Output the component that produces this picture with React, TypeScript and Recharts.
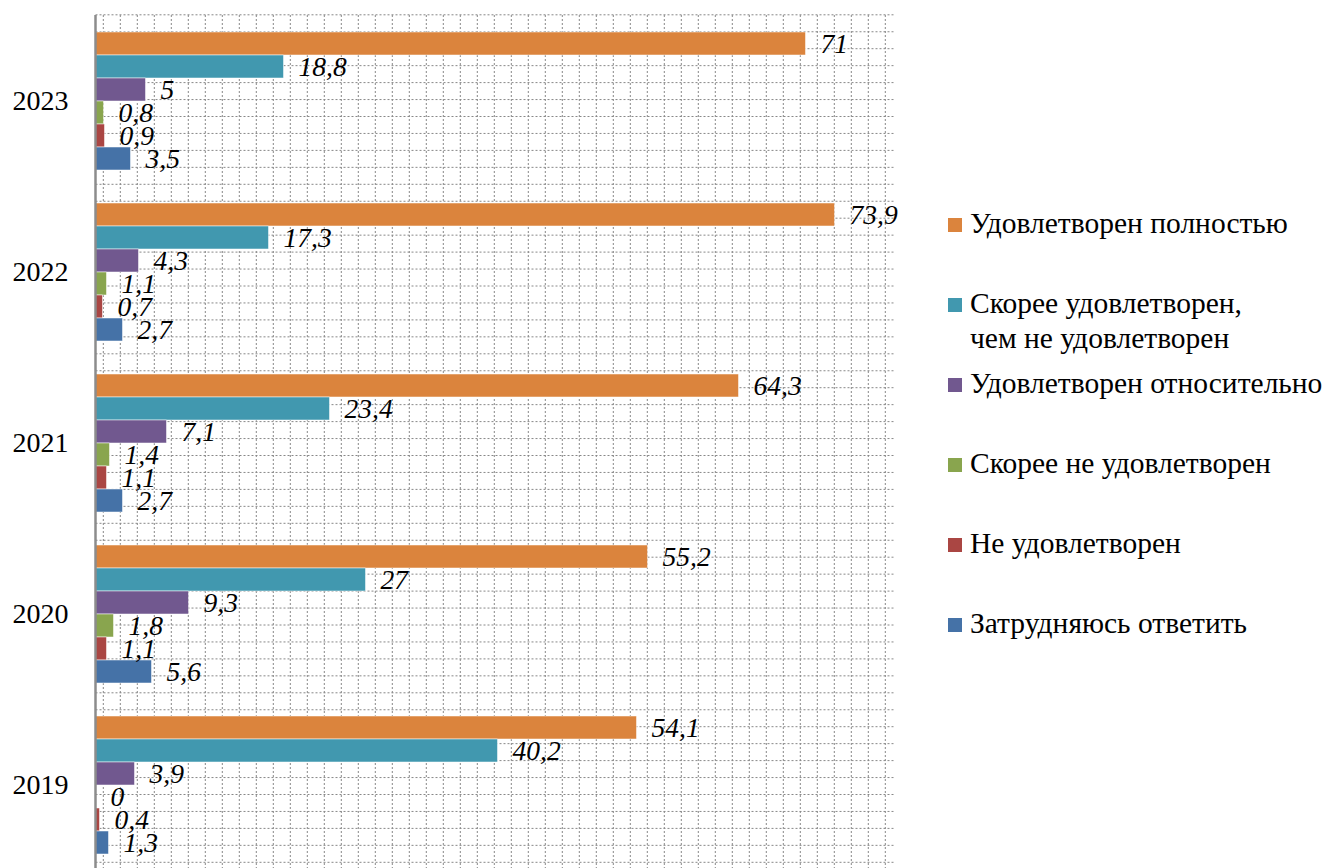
import React from 'react';
import { BarChart, Bar, XAxis, YAxis, CartesianGrid, Legend, LabelList } from 'recharts';

// годы (сверху вниз)
const years = ['2023', '2022', '2021', '2020', '2019'];

// значения по каждому варианту ответа, %
const fullySatisfied = [71, 73.9, 64.3, 55.2, 54.1];
const ratherSatisfied = [18.8, 17.3, 23.4, 27, 40.2];
const relativelySatisfied = [5, 4.3, 7.1, 9.3, 3.9];
const ratherNotSatisfied = [0.8, 1.1, 1.4, 1.8, 0];
const notSatisfied = [0.9, 0.7, 1.1, 1.1, 0.4];
const hardToSay = [3.5, 2.7, 2.7, 5.6, 1.3];

const SERIES = [
  { key: 'full', name: 'Удовлетворен полностью', lines: ['Удовлетворен полностью'], color: '#DB843D', values: fullySatisfied },
  { key: 'rather', name: 'Скорее удовлетворен, чем не удовлетворен', lines: ['Скорее удовлетворен,', 'чем не удовлетворен'], color: '#4198AF', values: ratherSatisfied },
  { key: 'relative', name: 'Удовлетворен относительно', lines: ['Удовлетворен относительно'], color: '#71588F', values: relativelySatisfied },
  { key: 'ratherNot', name: 'Скорее не удовлетворен', lines: ['Скорее не удовлетворен'], color: '#89A54E', values: ratherNotSatisfied },
  { key: 'not', name: 'Не удовлетворен', lines: ['Не удовлетворен'], color: '#AA4643', values: notSatisfied },
  { key: 'hard', name: 'Затрудняюсь ответить', lines: ['Затрудняюсь ответить'], color: '#4572A7', values: hardToSay },
];

const chartData = years.map((year, i) => ({
  year,
  ...Object.fromEntries(SERIES.map((s) => [s.key, s.values[i]])),
}));

const FONT = '"Liberation Serif", "Times New Roman", serif';

// сетка-фон в мелкую клетку
const gridX = Array.from({ length: 47 }, (_, i) => 103.3 + i * 17);
const gridY = Array.from({ length: 51 }, (_, i) => 14.8 + i * 16.95);

const fmt = (v: any) => String(v).replace('.', ',');

// подпись справа от столбика (рисуем сами, чтобы не терялся «0»)
const ValueLabel = (props: any) => {
  const { x, y, width, height, value } = props;
  if (value == null) return null;
  return (
    <text
      x={Number(x) + Number(width) + 15}
      y={Number(y) + Number(height) / 2}
      dy="0.355em"
      textAnchor="start"
      fontFamily={FONT}
      fontSize={27.5}
      fontStyle="italic"
      fill="#000"
    >
      {fmt(value)}
    </text>
  );
};

const LegendBox = () => (
  <div style={{ position: 'relative', width: 380, height: 460, fontFamily: FONT, fontSize: 29.5, color: '#000' }}>
    {SERIES.map((s, i) => (
      <div
        key={s.key}
        style={{ position: 'absolute', left: 0, top: i * 80.1, display: 'flex', alignItems: 'flex-start' }}
      >
        <div style={{ width: 14, height: 14, background: s.color, marginTop: 12, marginRight: 8, flex: 'none' }} />
        <div style={{ lineHeight: '35px', whiteSpace: 'nowrap' }}>
          {s.lines.map((l) => (
            <div key={l}>{l}</div>
          ))}
        </div>
      </div>
    ))}
  </div>
);

export default function App() {
  return (
    <div style={{ position: 'absolute', left: 0, top: 0, width: 1328, height: 868, overflow: 'hidden', background: '#fff' }}>
      <BarChart
        width={1328}
        height={870}
        data={chartData}
        layout="vertical"
        margin={{ top: 15, right: 432.5, left: 0, bottom: 0 }}
        barCategoryGap={17}
        barGap={0}
      >
        <CartesianGrid
          horizontalPoints={gridY}
          verticalPoints={gridX}
          stroke="#888"
          strokeDasharray="2 2"
        />
        <XAxis type="number" domain={[0, 80]} hide />
        <YAxis
          type="category"
          dataKey="year"
          width={95.5}
          tickSize={0}
          tickMargin={27}
          axisLine={{ stroke: '#8c8c8c', strokeWidth: 2.5 }}
          tick={{ fontFamily: FONT, fontSize: 28, fill: '#000' }}
        />
        <Legend
          layout="vertical"
          align="center"
          verticalAlign="middle"
          wrapperStyle={{ left: 948, top: 205.6, width: 380 }}
          content={() => <LegendBox />}
        />
        {SERIES.map((s) => (
          <Bar
            key={s.key}
            dataKey={s.key}
            name={s.name}
            fill={s.color}
            stroke="rgba(255,255,255,0.5)"
            strokeWidth={1}
            minPointSize={0.01}
            isAnimationActive={false}
          >
            <LabelList dataKey={s.key} content={ValueLabel} />
          </Bar>
        ))}
      </BarChart>
    </div>
  );
}
